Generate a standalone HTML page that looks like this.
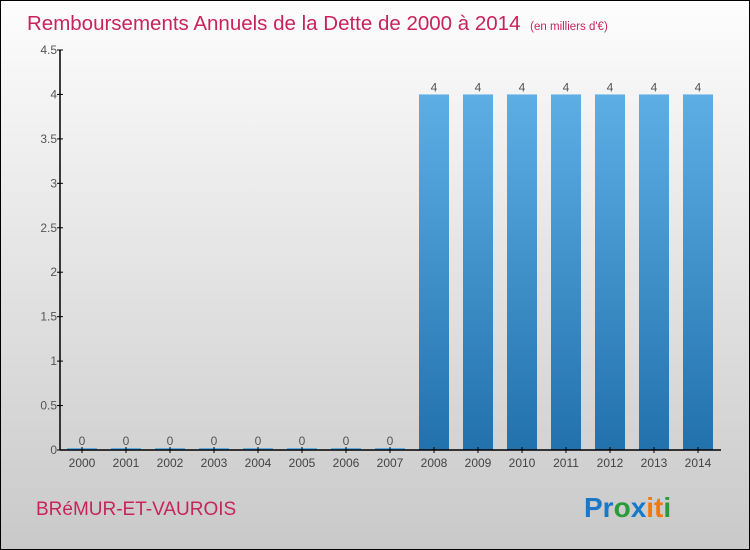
<!DOCTYPE html>
<html><head><meta charset="utf-8"><style>
body{margin:0}
svg{display:block;font-family:"Liberation Sans",sans-serif}
</style></head><body>
<svg id="chart" width="750" height="550">
<defs>
<linearGradient id="bg" x1="0" y1="0" x2="0" y2="1"><stop offset="0" stop-color="#fdfdfd"/><stop offset="1" stop-color="#c9c9c9"/></linearGradient>
<linearGradient id="bar" x1="0" y1="0" x2="0" y2="1"><stop offset="0" stop-color="#5eaee6"/><stop offset="1" stop-color="#2271ad"/></linearGradient>
</defs>
<rect x="0.5" y="0.5" width="749" height="549" fill="url(#bg)" stroke="#000"/>
<text x="27" y="30" font-size="20.5" fill="#c8245a">Remboursements Annuels de la Dette de 2000 à 2014 <tspan font-size="11.5" dx="4">(en milliers d'€)</tspan></text>
<g id="yaxis"></g><g id="bars"></g><g id="xaxis"></g>
<line x1="60" y1="50" x2="60" y2="450" stroke="#000" stroke-width="1.5"/>
<line x1="60" y1="450" x2="721" y2="450" stroke="#000" stroke-width="1.5"/>
<text x="36" y="515" font-size="19" fill="#c8245a">BRéMUR-ET-VAUROIS</text>
<text x="584" y="517" font-size="28" font-weight="bold"><tspan fill="#1a78c8">Pr</tspan><tspan fill="#2a9a3a">o</tspan><tspan fill="#1a78c8">x</tspan><tspan fill="#f07a10">it</tspan><tspan fill="#2a9a3a">i</tspan></text>
</svg>
<script>
const categories=["2000","2001","2002","2003","2004","2005","2006","2007","2008","2009","2010","2011","2012","2013","2014"];
const values=[0,0,0,0,0,0,0,0,4,4,4,4,4,4,4];
const yTicks=[0,0.5,1,1.5,2,2.5,3,3.5,4,4.5];
const yTickLabels=["0","0.5","1","1.5","2","2.5","3","3.5","4","4.5"];
const NS="http://www.w3.org/2000/svg";
const y=v=>450-v*(400/4.5);
const x=i=>82+i*44;
function mk(t,a,p){const e=document.createElementNS(NS,t);for(const k in a)e.setAttribute(k,a[k]);p.appendChild(e);return e;}
const ya=document.getElementById('yaxis');
yTicks.forEach((v,i)=>{
 const l=mk('line',{x1:57,x2:63,y1:y(v),y2:y(v),stroke:'#000'},ya);
 
 
 const t=mk('text',{x:57,y:y(v)+4,'font-size':12,fill:'#555','text-anchor':'end'},ya);
 t.textContent=yTickLabels[i];
 
 
});
const bg=document.getElementById('bars'),xa=document.getElementById('xaxis');
categories.forEach((c,i)=>{
 const h=Math.max(450-y(values[i]),2);
 const r=mk('rect',{x:x(i)-15,y:450-h,width:30,height:h,fill:values[i]>0?'url(#bar)':'#5eaee6'},bg);
 
 
 const vt=mk('text',{x:x(i),y:450-h-3,'font-size':12,fill:'#555','text-anchor':'middle'},bg);
 vt.textContent=values[i];
 
 
 const tk=mk('line',{x1:x(i),x2:x(i),y1:447,y2:453,stroke:'#000'},xa);
 
 
 const t=mk('text',{x:x(i),y:467,'font-size':12,fill:'#444','text-anchor':'middle'},xa);
 t.textContent=c;
 
 
});
</script>
</body></html>
